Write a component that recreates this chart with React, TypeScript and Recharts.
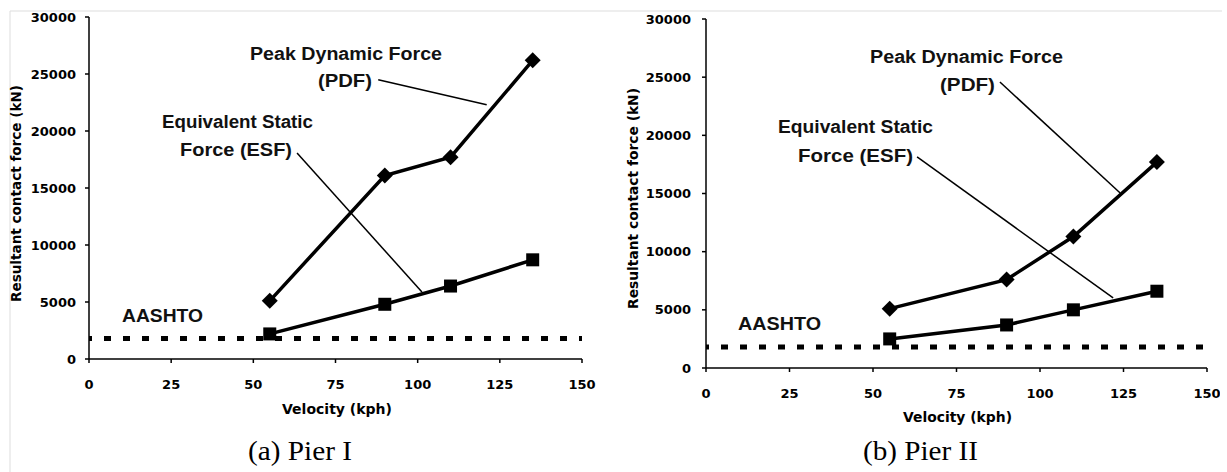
import { LineChart, Line, XAxis, YAxis, ReferenceLine } from 'recharts';

const velocity = [55, 90, 110, 135];
const pier1Pdf = [5100, 16100, 17700, 26200];
const pier1Esf = [2200, 4800, 6400, 8700];
const pier2Pdf = [5100, 7600, 11300, 17700];
const pier2Esf = [2500, 3700, 5000, 6600];
const aashtoForce = 1800;
const xTicks = [0, 25, 50, 75, 100, 125, 150];
const yTicks = [0, 5000, 10000, 15000, 20000, 25000, 30000];

// leader lines from the labels to the curves, in data units
const pier1PdfLeader = [{ x: 88, y: 24500 }, { x: 121, y: 22300 }];
const pier1EsfLeader = [{ x: 63.3, y: 18070 }, { x: 101.3, y: 5880 }];
const pier2PdfLeader = [{ x: 88, y: 24580 }, { x: 124, y: 15040 }];
const pier2EsfLeader = [{ x: 63.2, y: 18140 }, { x: 121.9, y: 6020 }];

const tickFont = { fill: '#000', fontSize: 13, fontWeight: 'bold', fontFamily: 'DejaVu Sans' };

const Diamond = (props: any) => {
  const { cx, cy, index } = props;
  const r = 8;
  return (
    <path
      key={`d-${index}`}
      d={`M${cx},${cy - r} L${cx + r},${cy} L${cx},${cy + r} L${cx - r},${cy} Z`}
      fill="#000"
    />
  );
};

const Square = (props: any) => {
  const { cx, cy, index } = props;
  return <rect key={`s-${index}`} x={cx - 6.5} y={cy - 6.5} width={13} height={13} fill="#000" />;
};

interface PierChartProps {
  pdf: number[];
  esf: number[];
  left: number;
  height: number;
  margin: { top: number; right: number; bottom: number; left: number };
  yTickMargin: number;
  pdfLeader: { x: number; y: number }[];
  esfLeader: { x: number; y: number }[];
}

const PierChart = ({ pdf, esf, left, height, margin, yTickMargin, pdfLeader, esfLeader }: PierChartProps) => {
  const data = velocity.map((v, i) => ({ v, pdf: pdf[i], esf: esf[i] }));
  return (
    <div style={{ position: 'absolute', left, top: 0 }}>
      <LineChart width={600} height={height} data={data} margin={margin}>
        <XAxis
          dataKey="v"
          type="number"
          domain={[0, 150]}
          ticks={xTicks}
          height={30}
          tick={tickFont}
          tickSize={4}
          tickMargin={17}
          axisLine={{ stroke: '#000', strokeWidth: 1.5 }}
          tickLine={{ stroke: '#000', strokeWidth: 1.5 }}
        />
        <YAxis
          type="number"
          domain={[0, 30000]}
          ticks={yTicks}
          width={60}
          tick={tickFont}
          tickSize={4}
          tickMargin={yTickMargin}
          axisLine={{ stroke: '#000', strokeWidth: 1.5 }}
          tickLine={{ stroke: '#000', strokeWidth: 1.5 }}
        />
        <ReferenceLine y={aashtoForce} stroke="#000" strokeWidth={5} strokeDasharray="7 12" strokeDashoffset={4} />
        <ReferenceLine segment={pdfLeader} stroke="#000" strokeWidth={1.5} />
        <ReferenceLine segment={esfLeader} stroke="#000" strokeWidth={1.5} />
        <Line dataKey="pdf" type="linear" stroke="#000" strokeWidth={3.5} dot={Diamond} isAnimationActive={false} />
        <Line dataKey="esf" type="linear" stroke="#000" strokeWidth={3.5} dot={Square} isAnimationActive={false} />
      </LineChart>
    </div>
  );
};

const annoFont = { fontFamily: 'Liberation Sans', fontSize: 18, fontWeight: 'bold', fill: '#111' };
const axisFont = { fontFamily: 'DejaVu Sans', fontSize: 13.5, fontWeight: 'bold', fill: '#000' };
const captionFont = { fontFamily: 'Liberation Serif', fontSize: 28, fill: '#000' };

const labels = [
  { text: 'Peak Dynamic Force', x: 250, y: 60, w: 192 },
  { text: '(PDF)', x: 318, y: 87, w: 54 },
  { text: 'Equivalent Static', x: 162, y: 128, w: 151 },
  { text: 'Force (ESF)', x: 180, y: 156, w: 112 },
  { text: 'AASHTO', x: 122, y: 322, w: 81 },
  { text: 'Peak Dynamic Force', x: 870, y: 63, w: 193 },
  { text: '(PDF)', x: 940, y: 91, w: 55 },
  { text: 'Equivalent Static', x: 778, y: 133, w: 155 },
  { text: 'Force (ESF)', x: 798, y: 162, w: 115 },
  { text: 'AASHTO', x: 738, y: 330, w: 83 },
];

export default function App() {
  return (
    <div style={{ position: 'absolute', left: 0, top: 0, width: 1227, height: 472, background: '#fff' }}>
      <PierChart
        pdf={pier1Pdf}
        esf={pier1Esf}
        left={0}
        height={400}
        margin={{ top: 17, right: 18, bottom: 11, left: 29 }}
        yTickMargin={9}
        pdfLeader={pier1PdfLeader}
        esfLeader={pier1EsfLeader}
      />
      <PierChart
        pdf={pier2Pdf}
        esf={pier2Esf}
        left={620}
        height={410}
        margin={{ top: 19, right: 13, bottom: 12, left: 26 }}
        yTickMargin={11}
        pdfLeader={pier2PdfLeader}
        esfLeader={pier2EsfLeader}
      />
      <svg width={1227} height={472} style={{ position: 'absolute', left: 0, top: 0, pointerEvents: 'none' }}>
        <line x1={10} y1={11} x2={1222} y2={11} stroke="#ddd" strokeWidth={1} />
        <line x1={10} y1={11} x2={10} y2={472} stroke="#ddd" strokeWidth={1} />
        {labels.map((l, i) => (
          <text key={i} x={l.x} y={l.y} textLength={l.w} lengthAdjust="spacingAndGlyphs" {...annoFont}>
            {l.text}
          </text>
        ))}
        <text
          transform="translate(21,193.5) rotate(-90)"
          textAnchor="middle"
          textLength={217}
          lengthAdjust="spacingAndGlyphs"
          {...axisFont}
        >
          Resultant contact force (kN)
        </text>
        <text
          transform="translate(638,198.5) rotate(-90)"
          textAnchor="middle"
          textLength={221}
          lengthAdjust="spacingAndGlyphs"
          {...axisFont}
        >
          Resultant contact force (kN)
        </text>
        <text x={282} y={414} textLength={110} lengthAdjust="spacingAndGlyphs" {...axisFont}>
          Velocity (kph)
        </text>
        <text x={903} y={422} textLength={109} lengthAdjust="spacingAndGlyphs" {...axisFont}>
          Velocity (kph)
        </text>
        <text x={248} y={460} textLength={104} lengthAdjust="spacingAndGlyphs" {...captionFont}>
          (a) Pier I
        </text>
        <text x={863} y={460} textLength={115} lengthAdjust="spacingAndGlyphs" {...captionFont}>
          (b) Pier II
        </text>
      </svg>
    </div>
  );
}
